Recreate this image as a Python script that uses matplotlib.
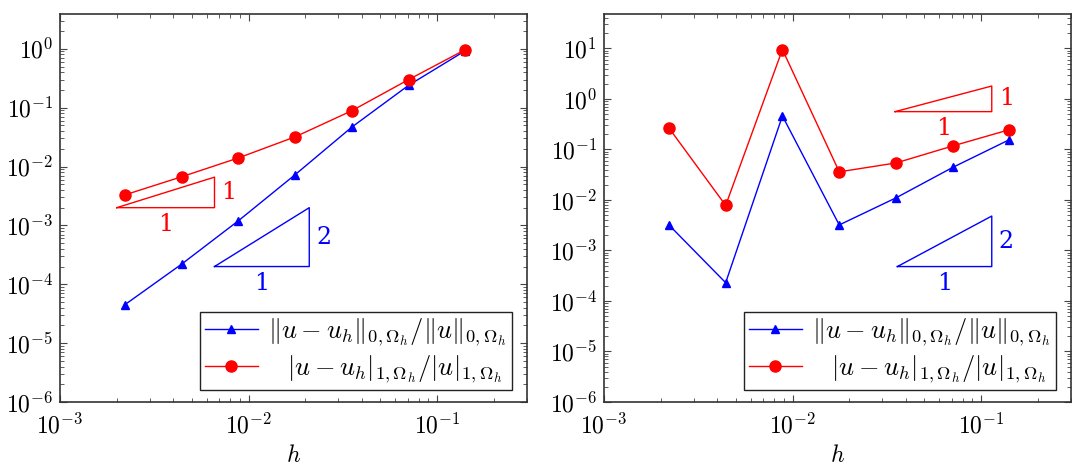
import numpy as np
import matplotlib
matplotlib.use('Agg')
import matplotlib.pyplot as plt
from matplotlib.ticker import NullFormatter, LogLocator

plt.rcParams['mathtext.fontset'] = 'cm'
plt.rcParams['font.family'] = 'serif'
plt.rcParams['font.serif'] = ['DejaVu Serif']

# mesh sizes
h = [0.00221, 0.00442, 0.00884, 0.0177, 0.0354, 0.0707, 0.1414]

# left panel
l2_left = [4.5e-5, 2.2e-4, 1.2e-3, 7.3e-3, 0.047, 0.24, 0.93]
h1_left = [3.3e-3, 6.7e-3, 0.014, 0.032, 0.089, 0.30, 0.97]

# right panel
l2_right = [3.2e-3, 2.3e-4, 0.46, 3.2e-3, 0.011, 0.044, 0.156]
h1_right = [0.266, 7.8e-3, 9.5, 0.036, 0.054, 0.117, 0.246]

# slope triangles: (x0, x1, y0, y1)
tri_left_red = (0.002, 0.0066, 0.002, 0.0066)
tri_left_blue = (0.0066, 0.021, 2.0e-4, 2.0e-3)
tri_right_red = (0.035, 0.114, 0.56, 1.8)
tri_right_blue = (0.036, 0.114, 4.8e-4, 4.8e-3)

xticks = [1e-3, 1e-2, 1e-1]
xtick_labels = [r'$10^{-3}$', r'$10^{-2}$', r'$10^{-1}$']
yticks_left = [1e-6, 1e-5, 1e-4, 1e-3, 1e-2, 1e-1, 1e0]
ytick_labels_left = [r'$10^{-6}$', r'$10^{-5}$', r'$10^{-4}$', r'$10^{-3}$',
                     r'$10^{-2}$', r'$10^{-1}$', r'$10^{0}$']
yticks_right = [1e-6, 1e-5, 1e-4, 1e-3, 1e-2, 1e-1, 1e0, 1e1]
ytick_labels_right = ytick_labels_left + [r'$10^{1}$']

label_l2 = r'$\|u-u_h\|_{0,\Omega_h}/\|u\|_{0,\Omega_h}$'
label_h1 = r'$\;\;\;|u-u_h|_{1,\Omega_h}/|u|_{1,\Omega_h}$'

blue = '#0000ff'
red = '#ff0000'
fs = 17
fs_leg = 19


def triangle(ax, tri, color, label_v, label_h):
    x0, x1, y0, y1 = tri
    ax.plot([x0, x1, x1, x0], [y0, y0, y1, y0], color=color, linewidth=1.0)
    ax.annotate(label_v, xy=(x1, np.sqrt(y0 * y1)), xytext=(5, 0),
                textcoords='offset points', ha='left', va='center',
                color=color, fontsize=fs)
    ax.annotate(label_h, xy=(np.sqrt(x0 * x1), y0), xytext=(0, -4),
                textcoords='offset points', ha='center', va='top',
                color=color, fontsize=fs)


def setup(ax, yticks, ylabels, ylim):
    ax.set_xscale('log')
    ax.set_yscale('log')
    ax.set_xlim(1e-3, 0.3)
    ax.set_ylim(*ylim)
    ax.set_xticks(xticks, xtick_labels, fontsize=fs)
    ax.set_yticks(yticks, ylabels, fontsize=fs)
    ax.xaxis.set_minor_locator(LogLocator(base=10, subs=np.arange(2, 10), numticks=20))
    ax.yaxis.set_minor_locator(LogLocator(base=10, subs=np.arange(2, 10), numticks=20))
    ax.xaxis.set_minor_formatter(NullFormatter())
    ax.yaxis.set_minor_formatter(NullFormatter())
    ax.tick_params(which='both', direction='in', top=True, right=True, color='#444444')
    ax.tick_params(which='major', length=5, width=0.8, pad=5)
    ax.tick_params(axis='x', which='major', pad=8)
    ax.tick_params(which='minor', length=3, width=0.6)
    for s in ax.spines.values():
        s.set_linewidth(1.2)
        s.set_color('#333333')
    ax.set_xlabel(r'$h$', fontsize=fs, labelpad=4)


def legend(ax):
    leg = ax.legend(loc='lower right', bbox_to_anchor=(0.968, 0.03), borderaxespad=0,
                    fontsize=fs_leg, fancybox=False, framealpha=1, edgecolor='#222222',
                    handlelength=2.0, handletextpad=0.4, labelspacing=0.2,
                    borderpad=0.2)
    leg.get_frame().set_linewidth(1.0)


fig = plt.figure(figsize=(10.83, 4.71), dpi=100)
ax1 = fig.add_axes([0.0554, 0.1465, 0.4312, 0.8238])
ax2 = fig.add_axes([0.5577, 0.1465, 0.4312, 0.8238])

# left
ax1.plot(h, l2_left, color=blue, marker='^', markersize=6, linewidth=1.0, label=label_l2)
ax1.plot(h, h1_left, color=red, marker='o', markersize=8, linewidth=1.0, label=label_h1)
triangle(ax1, tri_left_red, red, '1', '1')
triangle(ax1, tri_left_blue, blue, '2', '1')
setup(ax1, yticks_left, ytick_labels_left, (1e-6, 3.9))
legend(ax1)

# right
ax2.plot(h, l2_right, color=blue, marker='^', markersize=6, linewidth=1.0, label=label_l2)
ax2.plot(h, h1_right, color=red, marker='o', markersize=8, linewidth=1.0, label=label_h1)
triangle(ax2, tri_right_red, red, '1', '1')
triangle(ax2, tri_right_blue, blue, '2', '1')
setup(ax2, yticks_right, ytick_labels_right, (1e-6, 48))
legend(ax2)

fig.savefig('out.png', dpi=100)
